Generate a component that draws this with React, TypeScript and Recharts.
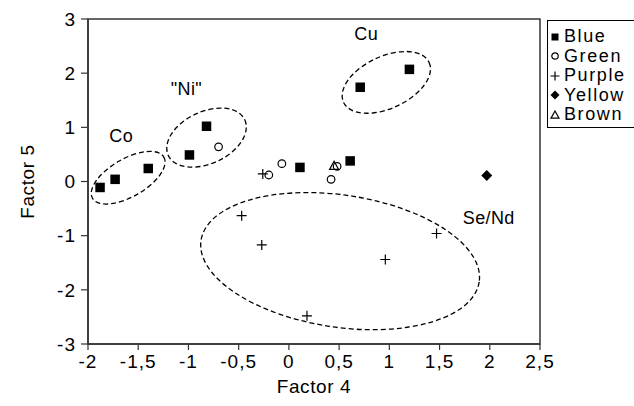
import React from 'react'
import { ScatterChart, Scatter, XAxis, YAxis, ReferenceArea, ReferenceDot } from 'recharts'

const FONT = '"Liberation Sans", Arial, Helvetica, sans-serif'
const INK = '#000'
const AXIS = '#333'

const X_TICKS = [-2, -1.5, -1, -0.5, 0, 0.5, 1, 1.5, 2, 2.5]
const Y_TICKS = [-3, -2, -1, 0, 1, 2, 3]

// scores (Factor 4, Factor 5)
const blue = [
  { x: -1.88, y: -0.11 }, { x: -1.73, y: 0.04 }, { x: -1.40, y: 0.24 },
  { x: -0.99, y: 0.49 }, { x: -0.82, y: 1.02 }, { x: 0.11, y: 0.26 },
  { x: 0.61, y: 0.38 }, { x: 0.71, y: 1.74 }, { x: 1.20, y: 2.07 },
]
const green = [
  { x: -0.70, y: 0.64 }, { x: -0.20, y: 0.12 }, { x: -0.07, y: 0.33 },
  { x: 0.42, y: 0.04 }, { x: 0.48, y: 0.28 },
]
const purple = [
  { x: -0.26, y: 0.14 }, { x: -0.47, y: -0.63 }, { x: -0.27, y: -1.17 },
  { x: 0.96, y: -1.44 }, { x: 1.47, y: -0.96 }, { x: 0.18, y: -2.48 },
]
const yellow = [{ x: 1.97, y: 0.11 }]
const brown = [{ x: 0.45, y: 0.29 }]

// dashed cluster outlines: centre, half extents (axis units), tilt in degrees
const clusterCx = [-1.60, -0.82, 0.97, 0.51]
const clusterCy = [0.07, 0.81, 1.83, -1.47]
const clusterHx = [0.41, 0.42, 0.47, 1.40]
const clusterHy = [0.35, 0.48, 0.48, 1.22]
const clusterTilt = [-30, -25, -25, 8.5]

const clusterNames = ['Co', '"Ni"', 'Cu', 'Se/Nd']
const labelX = [-1.67, -1.02, 0.77, 1.99]
const labelY = [0.84, 1.70, 2.72, -0.68]

const fmt = (v: number) => String(v).replace('.', ',')

const Square = ({ cx, cy, s = 9.5 }: any) => <rect x={cx - s / 2} y={cy - s / 2} width={s} height={s} fill={INK} />
const Ring = ({ cx, cy, r = 3.8 }: any) => <circle cx={cx} cy={cy} r={r} fill="#fff" stroke={INK} strokeWidth={1.2} />
const Plus = ({ cx, cy, s = 5 }: any) => (
  <path d={`M${cx - s},${cy}H${cx + s}M${cx},${cy - s}V${cy + s}`} stroke={INK} strokeWidth={1.2} />
)
const Diamond = ({ cx, cy, s = 5.5 }: any) => (
  <path d={`M${cx},${cy - s}L${cx + s},${cy}L${cx},${cy + s}L${cx - s},${cy}Z`} fill={INK} />
)
const Tri = ({ cx, cy, s = 4.5 }: any) => (
  <path d={`M${cx},${cy - s}L${cx + s},${cy + s * 0.8}L${cx - s},${cy + s * 0.8}Z`} fill="none" stroke={INK} strokeWidth={1.2} />
)

const ellipseShape = (tilt: number) => (p: any) => {
  const cx = p.x + p.width / 2
  const cy = p.y + p.height / 2
  return (
    <ellipse
      cx={cx} cy={cy} rx={Math.abs(p.width) / 2} ry={Math.abs(p.height) / 2}
      transform={`rotate(${tilt} ${cx} ${cy})`}
      fill="none" stroke={INK} strokeWidth={1.3} strokeDasharray="5 3"
    />
  )
}

const labelShape = (text: string) => (p: any) => (
  <text x={p.cx} y={p.cy} textAnchor="middle" dominantBaseline="central" fontSize={18} fontFamily={FONT} fill={INK} letterSpacing={0.4}>{text}</text>
)

const YLabel = (p: any) => {
  const vb = p.viewBox
  const cx = 27
  const cy = vb.y + vb.height / 2
  return (
    <text x={cx} y={cy} transform={`rotate(-90 ${cx} ${cy})`} textAnchor="middle" dominantBaseline="central" fontSize={19} fontFamily={FONT} fill={INK} letterSpacing={0.6}>
      Factor 5
    </text>
  )
}

const XLabel = (p: any) => {
  const vb = p.viewBox
  return (
    <text x={vb.x + vb.width / 2} y={386} textAnchor="middle" dominantBaseline="central" fontSize={19} fontFamily={FONT} fill={INK} letterSpacing={0.6}>
      Factor 4
    </text>
  )
}

const legendItems = [
  { name: 'Blue', mark: <Square cx={6} cy={9} s={7} /> },
  { name: 'Green', mark: <Ring cx={6} cy={9} r={3.2} /> },
  { name: 'Purple', mark: <Plus cx={6} cy={9} s={4.5} /> },
  { name: 'Yellow', mark: <Diamond cx={6} cy={9} s={4.5} /> },
  { name: 'Brown', mark: <Tri cx={6} cy={9} s={4} /> },
]

export default function App() {
  return (
    <div style={{ position: 'absolute', left: 0, top: 0, width: 634, height: 406, background: '#fff', overflow: 'hidden', fontFamily: FONT }}>
      <ScatterChart width={634} height={406} margin={{ top: 19, right: 94, bottom: 0, left: 0 }}>
        <XAxis
          type="number" dataKey="x" domain={[-2, 2.5]} ticks={X_TICKS} allowDataOverflow
          tickFormatter={fmt} tickSize={6} tickMargin={5} height={62}
          axisLine={{ stroke: AXIS, strokeWidth: 1.5 }} tickLine={{ stroke: AXIS, strokeWidth: 1.2 }}
          tick={{ fill: INK, fontSize: 19, fontFamily: FONT, letterSpacing: 1 }}
          label={<XLabel />}
        />
        <YAxis
          type="number" dataKey="y" domain={[-3, 3]} ticks={Y_TICKS} allowDataOverflow
          tickFormatter={fmt} tickSize={7} tickMargin={5} width={88}
          axisLine={{ stroke: AXIS, strokeWidth: 1.5 }} tickLine={{ stroke: AXIS, strokeWidth: 1.2 }}
          tick={{ fill: INK, fontSize: 19, fontFamily: FONT, letterSpacing: 1 }}
          label={<YLabel />}
        />
        <ReferenceArea x1={-2} x2={2.5} y1={-3} y2={3} fill="none" stroke={AXIS} strokeWidth={1.5} />
        {clusterNames.map((n, i) => (
          <ReferenceArea
            key={'e' + n}
            x1={clusterCx[i] - clusterHx[i]} x2={clusterCx[i] + clusterHx[i]}
            y1={clusterCy[i] - clusterHy[i]} y2={clusterCy[i] + clusterHy[i]}
            ifOverflow="visible"
            shape={ellipseShape(clusterTilt[i])}
          />
        ))}
        {clusterNames.map((n, i) => (
          <ReferenceDot key={'l' + n} x={labelX[i]} y={labelY[i]} r={0} ifOverflow="visible" shape={labelShape(n)} />
        ))}
        <Scatter name="Blue" data={blue} shape={(p: any) => <Square cx={p.cx} cy={p.cy} />} isAnimationActive={false} />
        <Scatter name="Green" data={green} shape={(p: any) => <Ring cx={p.cx} cy={p.cy} />} isAnimationActive={false} />
        <Scatter name="Purple" data={purple} shape={(p: any) => <Plus cx={p.cx} cy={p.cy} />} isAnimationActive={false} />
        <Scatter name="Yellow" data={yellow} shape={(p: any) => <Diamond cx={p.cx} cy={p.cy} />} isAnimationActive={false} />
        <Scatter name="Brown" data={brown} shape={(p: any) => <Tri cx={p.cx} cy={p.cy} />} isAnimationActive={false} />
      </ScatterChart>
      <div style={{ position: 'absolute', left: 547, top: 20, width: 110, height: 108, border: `1px solid ${INK}`, paddingTop: 6, boxSizing: 'border-box' }}>
        {legendItems.map(it => (
          <div key={it.name} style={{ display: 'flex', alignItems: 'center', height: 19.5, paddingLeft: 1, fontSize: 18, letterSpacing: 1.6, color: INK, whiteSpace: 'nowrap' }}>
            <svg width={13} height={18} style={{ marginRight: 2, flex: 'none' }}>{it.mark}</svg>
            <span>{it.name}</span>
          </div>
        ))}
      </div>
    </div>
  )
}
